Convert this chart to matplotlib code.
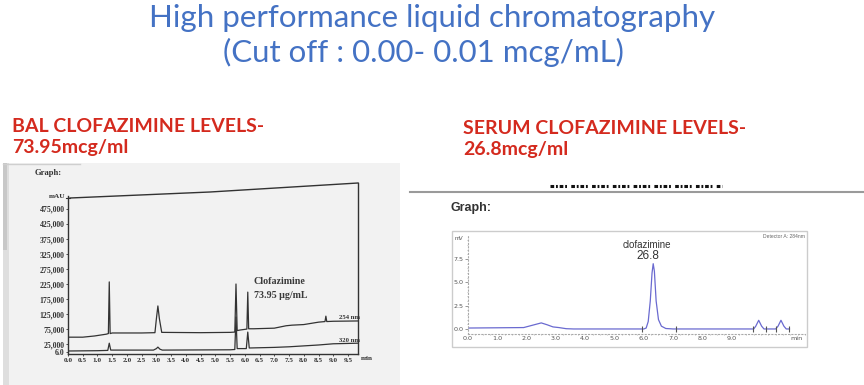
import matplotlib
matplotlib.use("Agg")
import matplotlib.pyplot as plt
from matplotlib.lines import Line2D
from matplotlib.patches import Rectangle

W, H = 864, 385

# ---------------- data ----------------
title_lines = ["High performance liquid chromatography", "(Cut off : 0.00- 0.01 mcg/mL)"]
bal_label = ["BAL CLOFAZIMINE LEVELS-", "73.95mcg/ml"]
serum_label = ["SERUM CLOFAZIMINE LEVELS-", "26.8mcg/ml"]

# BAL chromatogram, 254 nm trace (min, mAU)
bal_t_254 = [0.0, 0.5, 0.9, 1.3, 1.37, 1.40, 1.43, 1.5, 2.5, 2.95, 3.0, 3.05, 3.1, 3.18,
             4.5, 5.5, 5.66, 5.70, 5.74, 5.85, 6.0, 6.07, 6.10, 6.13, 6.3, 7.0, 7.4, 7.6,
             8.0, 8.5, 8.72, 8.75, 8.78, 9.0, 9.84]
bal_v_254 = [48000, 48000, 52000, 58000, 60000, 232000, 60000, 62000, 62000, 63000, 110000,
             152000, 110000, 64000, 63000, 64000, 65000, 225000, 70000, 72000, 74000, 75000,
             198000, 76000, 76000, 78000, 86000, 88000, 90000, 98000, 100000, 118000, 100000,
             101000, 102000]
# BAL chromatogram, 320 nm trace (min, mAU)
bal_t_320 = [0.0, 1.0, 1.35, 1.40, 1.45, 2.9, 3.0, 3.05, 3.12, 3.2, 5.5, 5.66, 5.70, 5.74,
             6.05, 6.10, 6.15, 7.0, 7.5, 8.5, 9.0, 9.84]
bal_v_320 = [2000, 3000, 4000, 28000, 5000, 5000, 10000, 15000, 8000, 5000, 6000, 7000,
             115000, 10000, 10000, 65000, 12000, 14000, 16000, 22000, 26000, 28000]
bal_yticks = [0, 25000, 75000, 125000, 175000, 225000, 275000, 325000, 375000, 425000, 475000]
bal_yticklabels = ["6.0", "25,000", "75,000", "125,000", "175,000", "225,000", "275,000",
                   "325,000", "375,000", "425,000", "475,000"]
bal_xticks = [0.0, 0.5, 1.0, 1.5, 2.0, 2.5, 3.0, 3.5, 4.0, 4.5, 5.0, 5.5, 6.0, 6.5, 7.0,
              7.5, 8.0, 8.5, 9.0, 9.5]

# Serum chromatogram (min, mV)
serum_t = [0.0, 1.9, 2.2, 2.5, 2.7, 2.9, 3.1, 3.35, 3.6, 6.0, 6.08, 6.15, 6.22, 6.28, 6.32,
           6.36, 6.42, 6.5, 6.6, 6.75, 7.0, 9.75, 9.82, 9.92, 10.02, 10.1, 10.5, 10.58,
           10.68, 10.78, 10.86, 10.97]
serum_mv = [0.1, 0.15, 0.4, 0.65, 0.45, 0.22, 0.15, 0.03, 0.0, 0.0, 0.1, 0.8, 3.0, 6.0, 7.0,
            6.2, 3.0, 1.0, 0.3, 0.05, 0.0, 0.0, 0.3, 0.93, 0.3, 0.0, 0.0, 0.3, 0.93, 0.3,
            0.0, 0.0]
serum_marks = [5.93, 7.10, 9.72, 10.17, 10.51, 10.97]
serum_xticks = [0, 1, 2, 3, 4, 5, 6, 7, 8, 9]
serum_yticks = [0.0, 2.5, 5.0, 7.5]

BLUE = "#4472C4"
RED = "#D42A1E"


def fx(x):
    return x / W


def fy(y):
    return 1 - y / H


fig = plt.figure(figsize=(W / 100, H / 100), dpi=100)
fig.patch.set_facecolor("white")

# ---------------- titles ----------------
fig.text(fx(432), fy(18), title_lines[0], ha="center", va="center", color=BLUE,
         fontsize=22.5, family="Lato")
fig.text(fx(423), fy(52), title_lines[1], ha="center", va="center", color=BLUE,
         fontsize=22.5, family="Lato")

for (x, y, s) in [(12, 126, bal_label[0]), (12, 147, bal_label[1]),
                  (463, 128, serum_label[0]), (463, 149, serum_label[1])]:
    fig.text(fx(x), fy(y), s, ha="left", va="center", color=RED,
             fontsize=14, family="Lato", weight="bold")

# ---------------- left scanned chart ----------------
fig.patches.append(Rectangle((fx(3), fy(385)), fx(400 - 3), (385 - 163) / H,
                             transform=fig.transFigure, facecolor="#f2f2f2",
                             edgecolor="none", zorder=-3))
fig.patches.append(Rectangle((fx(3), fy(385)), fx(6), (385 - 163) / H,
                             transform=fig.transFigure, facecolor="#dedede",
                             edgecolor="none", zorder=-2))
fig.patches.append(Rectangle((fx(3), fy(250)), fx(4), (250 - 163) / H,
                             transform=fig.transFigure, facecolor="#c8c8c8",
                             edgecolor="none", zorder=-1))
fig.lines.append(Line2D([fx(3), fx(80)], [fy(164), fy(164)], transform=fig.transFigure,
                        color="#cfcfcf", lw=1.0))

fig.text(fx(35), fy(173), "Graph:", ha="left", va="center", fontsize=6.2,
         family="Liberation Serif", weight="bold", color="#333333")

axL = fig.add_axes([fx(68), fy(354), (358 - 68) / W, (354 - 196) / H])
axL.set_zorder(2)
axL.set_facecolor("none")
axL.plot(bal_t_254, bal_v_254, color="#333333", lw=0.9)
axL.plot(bal_t_320, bal_v_320, color="#333333", lw=0.9)
axL.set_xlim(0, 9.84)
axL.set_ylim(-8000, 518000)
for s in ["top", "right"]:
    axL.spines[s].set_visible(False)
for s in ["left", "bottom"]:
    axL.spines[s].set_color("#333333")
    axL.spines[s].set_linewidth(1.0)
axL.set_yticks(bal_yticks)
axL.set_yticklabels(bal_yticklabels)
axL.set_xticks(bal_xticks)
axL.set_xticklabels([f"{v:.1f}" for v in bal_xticks])
axL.tick_params(axis="y", length=1.5, width=0.6, color="#333333", pad=1.0,
                labelsize=5.6, labelcolor="#333333")
axL.tick_params(axis="x", length=1.5, width=0.6, color="#333333", pad=1.5,
                labelsize=5.2, labelcolor="#333333")
for lab in axL.get_xticklabels() + axL.get_yticklabels():
    lab.set_family("Liberation Serif")
    lab.set_weight("bold")

axL.text(9.55, 104000, "254 nm", fontsize=4.8, family="Liberation Serif",
         weight="bold", color="#333333", ha="center", va="bottom")
axL.text(9.55, 29000, "320 nm", fontsize=4.8, family="Liberation Serif",
         weight="bold", color="#333333", ha="center", va="bottom")
axL.text(6.3, 232000, "Clofazimine", fontsize=7.2, family="Liberation Serif",
         weight="bold", color="#3a3a3a", ha="left", va="center")
axL.text(6.3, 186000, "73.95 \u00b5g/mL", fontsize=7.2, family="Liberation Serif",
         weight="bold", color="#3a3a3a", ha="left", va="center")

# tilted top border and right border of the scan
fig.lines.append(Line2D([fx(70), fx(210), fx(358)], [fy(198), fy(192), fy(183)],
                        transform=fig.transFigure, color="#333333", lw=1.0))
fig.lines.append(Line2D([fx(358), fx(358)], [fy(183), fy(354)],
                        transform=fig.transFigure, color="#333333", lw=1.0))
fig.lines.append(Line2D([fx(66), fx(70)], [fy(198), fy(198)],
                        transform=fig.transFigure, color="#333333", lw=0.8))
fig.text(fx(65), fy(197), "mAU", ha="right", va="center", fontsize=5.2,
         family="Liberation Serif", weight="bold", color="#333333")
fig.text(fx(361), fy(358), "min", ha="left", va="center", fontsize=5.2,
         family="Liberation Serif", weight="bold", color="#333333")

# ---------------- right screenshot chart ----------------
fig.lines.append(Line2D([fx(550), fx(722)], [fy(186), fy(186)], transform=fig.transFigure,
                        color="#111111", lw=2.2,
                        dashes=(1.2, 0.6, 0.6, 0.6, 1.2, 0.6, 0.6, 1.4)))
fig.lines.append(Line2D([fx(410), fx(864)], [fy(192), fy(192)], transform=fig.transFigure,
                        color="#9a9a9a", lw=1.5))
fig.text(fx(451), fy(208), "Graph:", ha="left", va="center", fontsize=9,
         family="Liberation Sans", weight="bold", color="#333333")
fig.patches.append(Rectangle((fx(452), fy(347)), (807 - 452) / W, (347 - 231) / H,
                             transform=fig.transFigure, facecolor="white",
                             edgecolor="#cccccc", lw=1.0, zorder=-1))

axR = fig.add_axes([fx(468), fy(334), (805 - 468) / W, (334 - 236) / H])
axR.set_zorder(2)
axR.set_facecolor("none")
axR.plot(serum_t, serum_mv, color="#6a6ad0", lw=0.9)
axR.plot(serum_marks, [0.0] * len(serum_marks), linestyle="none", marker="|",
         ms=5, mew=0.8, color="#555555")
axR.set_xlim(0, 11.5)
axR.set_ylim(-0.54, 9.97)
for s in ["top", "right"]:
    axR.spines[s].set_visible(False)
for s in ["left", "bottom"]:
    axR.spines[s].set_color("#aaaaaa")
    axR.spines[s].set_linewidth(0.8)
    axR.spines[s].set_linestyle((0, (1, 2)))
axR.set_xticks(serum_xticks + [11.2])
axR.set_xticklabels([f"{v:.1f}" for v in serum_xticks] + ["min"])
axR.set_yticks(serum_yticks)
axR.set_yticklabels([f"{v:.1f}" for v in serum_yticks])
axR.set_xticks([i * 0.25 for i in range(0, 47)], minor=True)
axR.set_yticks([i * 0.5 for i in range(0, 20)], minor=True)
axR.tick_params(axis="both", which="major", length=2, width=0.6, color="#888888",
                pad=1.5, labelsize=4.6, labelcolor="#555555")
axR.tick_params(axis="both", which="minor", length=1, width=0.5, color="#aaaaaa")
axR.tick_params(axis="x", which="major", length=0)
axR.text(-0.15, 9.7, "mV", fontsize=4.2, color="#555555", family="Liberation Sans",
         ha="right", va="center")
axR.text(6.1, 9.0, "clofazimine", fontsize=7, color="#333333", family="Liberation Sans",
         ha="center", va="center")
axR.text(6.15, 7.8, "26.8", fontsize=8.5, color="#333333", family="Liberation Sans",
         ha="center", va="center")
fig.text(fx(805), fy(236), "Detector A: 284nm", ha="right", va="center", fontsize=3.6,
         family="Liberation Sans", color="#666666")

fig.savefig("out.png", dpi=100)
